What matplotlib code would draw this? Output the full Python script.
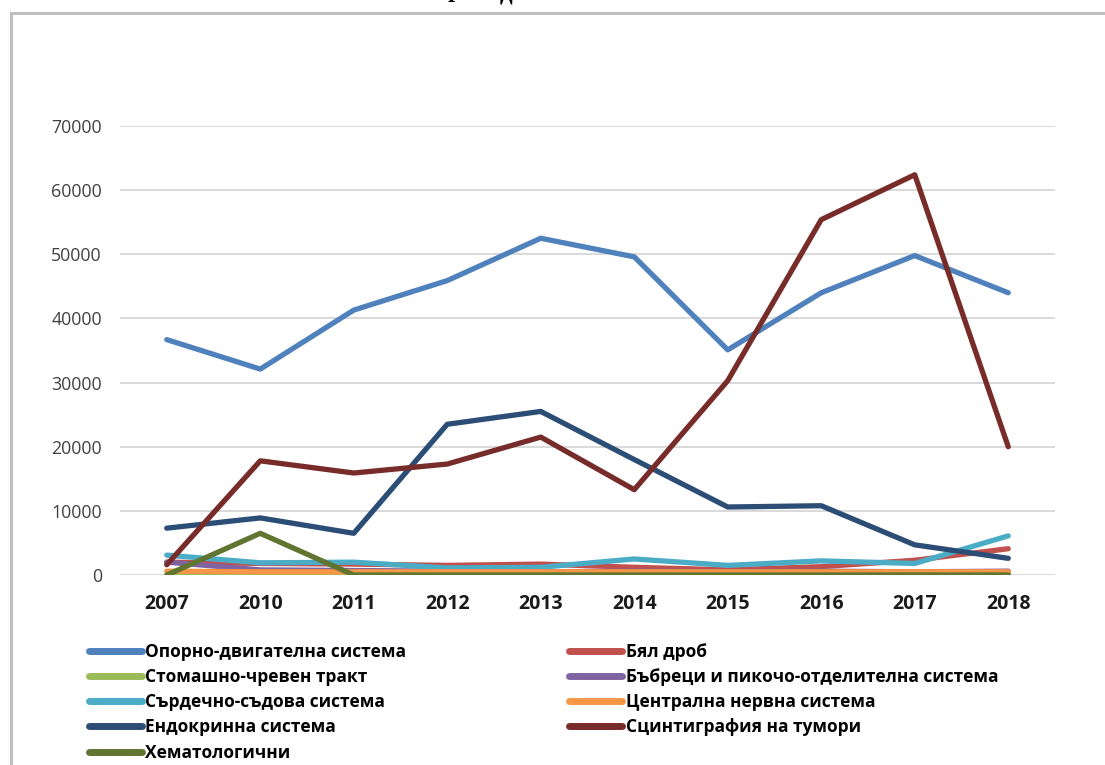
import matplotlib
matplotlib.use("Agg")
import matplotlib.pyplot as plt
from matplotlib.patches import Rectangle

years = ["2007", "2010", "2011", "2012", "2013", "2014", "2015", "2016", "2017", "2018"]

names = [
    "Опорно-двигателна система",
    "Бял дроб",
    "Стомашно-чревен тракт",
    "Бъбреци и пикочо-отделителна система",
    "Сърдечно-съдова система",
    "Централна нервна система",
    "Ендокринна система",
    "Сцинтиграфия на тумори",
    "Хематологични",
]

musculo = [36700, 32100, 41300, 45900, 52500, 49600, 35100, 44000, 49800, 44000]
lung = [2000, 1800, 1700, 1500, 1700, 1200, 800, 1300, 2300, 4100]
gastro = [100, 100, 100, 100, 100, 100, 100, 100, 100, 100]
kidney = [2000, 800, 700, 600, 500, 600, 500, 600, 500, 600]
cardio = [3100, 1900, 2000, 1100, 1200, 2500, 1500, 2200, 1800, 6100]
cns = [600, 500, 500, 500, 500, 500, 500, 500, 500, 500]
endocrine = [7300, 8900, 6500, 23500, 25500, 18000, 10600, 10800, 4700, 2600]
tumors = [1600, 17800, 15900, 17300, 21500, 13300, 30300, 55400, 62400, 20000]
hemato = [0, 6500, 0, 0, 0, 0, 0, 0, 0, 0]

series = [musculo, lung, gastro, kidney, cardio, cns, endocrine, tumors, hemato]
colors = ["#4F81BD", "#C0504D", "#9BBB59", "#8064A2", "#4BACC6",
          "#F79646", "#2C4D75", "#772C2A", "#5F7530"]

fig = plt.figure(figsize=(11.05, 7.65), dpi=100)

# outer chart frame (partly cut off like the screenshot)
fig.patches.append(Rectangle((11 / 1105, -0.05), 1.2, 1 - 13 / 765 + 0.05,
                             transform=fig.transFigure, fill=False,
                             edgecolor="#BFBFBF", linewidth=2.2))

# cropped title remnant (only the descenders show at the top edge)
fig.text(448 / 1105, 1 + 3 / 765, "р", fontfamily="Liberation Serif", fontweight="bold",
         fontsize=18, va="baseline", ha="left")
fig.text(500 / 1105, 1 + 1 / 765, "д", fontfamily="Liberation Serif", fontweight="bold",
         fontsize=18, va="baseline", ha="left")

ax = fig.add_axes([120 / 1105, 1 - 575 / 765, 935 / 1105, 449 / 765])
x = list(range(len(years)))
handles = []
for i, (vals, name, c) in enumerate(zip(series, names, colors)):
    (h,) = ax.plot(x, vals, color=c, linewidth=3.8, solid_capstyle="round",
                   solid_joinstyle="round", label=name, zorder=3 + i)
    handles.append(h)

ax.set_xlim(-0.5, len(years) - 0.5)
ax.set_ylim(0, 70000)
ax.set_yticks(range(0, 70001, 10000))
ax.set_yticklabels([str(v) for v in range(0, 70001, 10000)])
ax.set_xticks(x)
ax.set_xticklabels(years)
ax.grid(axis="y", color="#D9D9D9", linewidth=1.4, zorder=0)
ax.set_axisbelow(True)
for s in ax.spines.values():
    s.set_visible(False)
ax.tick_params(axis="both", length=0)
ax.tick_params(axis="y", pad=13, labelsize=12.8, labelcolor="#404040")
ax.tick_params(axis="x", pad=14, labelsize=14, labelcolor="#1a1a1a")
for lab in ax.get_yticklabels():
    lab.set_fontfamily("Open Sans")
for lab in ax.get_xticklabels():
    lab.set_fontfamily("Open Sans")
    lab.set_fontweight("bold")

order = [0, 2, 4, 6, 8, 1, 3, 5, 7]
leg = fig.legend([handles[k] for k in order], [names[k] for k in order],
                 ncol=2, loc="upper left", bbox_to_anchor=(73 / 1105, 1 - 627 / 765),
                 frameon=False, handlelength=3.05, handletextpad=0.2,
                 columnspacing=9.4, labelspacing=0.42,
                 prop={"family": "Open Sans", "weight": "bold", "size": 12.5})
for lh in leg.get_lines():
    lh.set_linewidth(5)

fig.savefig("out.png", dpi=100, facecolor="white")
